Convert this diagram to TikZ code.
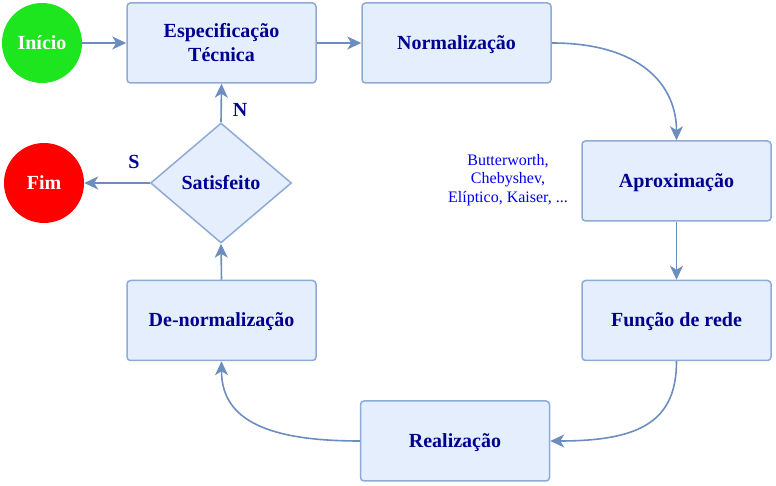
\documentclass[tikz,border=0pt]{standalone}
\usepackage{fontspec}
\setmainfont{Liberation Serif}[BoldFont={Liberation Serif Bold}]
\newfontfamily\tnr{Liberation Serif}[BoldFont={Liberation Serif Bold}]
\usetikzlibrary{arrows.meta,shapes.geometric}
\definecolor{boxfill}{HTML}{E4EEFC}
\definecolor{boxline}{HTML}{8EAAD6}
\definecolor{edgecol}{HTML}{6C8EBF}
\definecolor{txtcol}{HTML}{000090}
\definecolor{notecol}{HTML}{0000EE}
\definecolor{startgreen}{RGB}{30,230,30}
\definecolor{endred}{HTML}{FF0000}
\tikzset{
  stepbox/.style={draw=boxline, fill=boxfill, line width=1.5pt, rounded corners=3.5pt,
    minimum width=189pt, minimum height=80pt, inner sep=0pt, align=center,
    text=txtcol, font=\tnr\fontsize{20}{24}\selectfont\bfseries},
  oneline/.style={text height=13pt, text depth=0pt},
  decbox/.style={diamond, draw=boxline, fill=boxfill, line width=1.5pt,
    minimum width=141pt, minimum height=120pt, inner sep=0pt,
    text=txtcol, font=\tnr\fontsize{20}{24}\selectfont\bfseries, oneline},
  term/.style={circle, minimum size=80pt, inner sep=0pt, text=white,
    font=\tnr\fontsize{20}{24}\selectfont\bfseries, oneline},
  conn/.style={draw=edgecol, line width=1.6pt,
    -{Stealth[length=14pt,width=13pt,inset=4pt]}},
  lbl/.style={text=txtcol, font=\tnr\fontsize{20}{22}\selectfont\bfseries},
  note/.style={text=notecol, align=center, font=\tnr\fontsize{16}{18.5}\selectfont}
}
\begin{document}
\begin{tikzpicture}[x=1pt,y=1pt]
\useasboundingbox (0,0) rectangle (776,486);
\node[term, fill=startgreen] (ini) at (42,443) {Início};
\node[term, fill=endred] (fim) at (44,303) {Fim};
\node[stepbox] (esp) at (221.5,443) {Especificação\\Técnica};
\node[stepbox, oneline] (nor) at (456.5,443) {Normalização};
\node[stepbox, oneline] (apr) at (676.5,305) {Aproximação};
\node[stepbox, oneline] (fun) at (676.5,165.5) {Função de rede};
\node[stepbox, oneline] (rea) at (455,45) {Realização};
\node[stepbox, oneline] (den) at (221.5,165.5) {De-normalização};
\node[decbox] (sat) at (221,303) {Satisfeito};
\node[note] (nt) at (508,306) {Butterworth,\\Chebyshev,\\Elíptico, Kaiser, ...};
\node[lbl] (lN) at (240,376) {N};
\node[lbl] (lS) at (134,324) {S};

\draw[conn] (ini.east) -- (esp.west);
\draw[conn] (esp.east) -- (nor.west);
\draw[conn] (nor.east) .. controls +(89,0) and +(0,55) .. (apr.north);
\draw[conn] (apr.south) -- (fun.north);
\draw[conn] (fun.south) .. controls +(0,-60) and +(90,0) .. (rea.east);
\draw[conn] (rea.west) .. controls +(-90,0) and +(0,-60) .. (den.south);
\draw[conn] (den.north) -- (sat.south);
\draw[conn] (sat.north) -- (esp.south);
\draw[conn] (sat.west) -- (fim.east);
\end{tikzpicture}
\end{document}
